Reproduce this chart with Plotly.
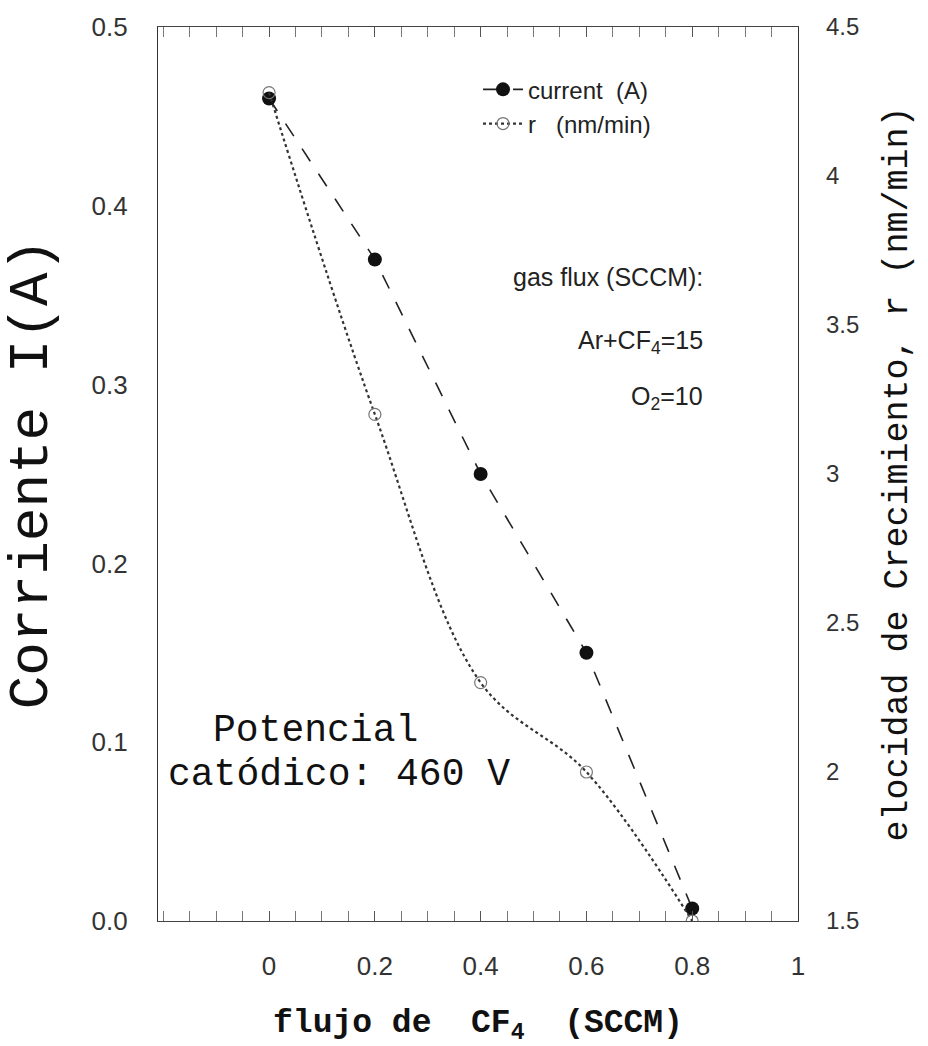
import plotly.graph_objects as go

flujo = [0.0, 0.2, 0.4, 0.6, 0.8]
corriente = [0.46, 0.37, 0.25, 0.15, 0.007]
tasa_r = [4.28, 3.2, 2.3, 2.0, 1.5]

x_ticks = [0, 0.2, 0.4, 0.6, 0.8, 1]
x_ticktext = ["0", "0.2", "0.4", "0.6", "0.8", "1"]
y_ticks = [0.0, 0.1, 0.2, 0.3, 0.4, 0.5]
y_ticktext = ["0.0", "0.1", "0.2", "0.3", "0.4", "0.5"]
y2_ticks = [1.5, 2, 2.5, 3, 3.5, 4, 4.5]
y2_ticktext = ["1.5", "2", "2.5", "3", "3.5", "4", "4.5"]

mono = "Liberation Mono, Courier New, monospace"
sans = "Liberation Sans, Arial, sans-serif"

fig = go.Figure()
fig.add_trace(go.Scatter(
    x=flujo, y=corriente, name="current  (A)", mode="lines+markers",
    line=dict(color="#222", width=1.6, dash="longdash"),
    marker=dict(symbol="circle", size=14, color="#111"),
))
fig.add_trace(go.Scatter(
    x=flujo, y=tasa_r, name="r   (nm/min)", yaxis="y2", mode="lines+markers",
    line=dict(color="#333", width=2.2, dash="dot", shape="spline"),
    marker=dict(symbol="circle-open", size=12, color="#777", line=dict(width=1.2)),
))

fig.update_layout(
    width=928, height=1046,
    margin=dict(l=158, r=130, t=24, b=121),
    paper_bgcolor="white", plot_bgcolor="white",
    showlegend=True,
    legend=dict(x=0.5, y=0.955, xanchor="left", yanchor="top",
                font=dict(family=sans, size=24, color="#222"),
                bgcolor="rgba(0,0,0,0)", itemwidth=40, tracegroupgap=4),
    xaxis=dict(range=[-0.21, 1.0], tickvals=x_ticks, ticktext=x_ticktext,
               showgrid=False, zeroline=False, showline=True, linecolor="#444",
               linewidth=1, mirror="allticks", ticks="inside", ticklen=10,
               tickcolor="#555", ticklabelstandoff=22,
               minor=dict(ticks="inside", ticklen=5, dtick=0.05, tickcolor="#777"),
               tickfont=dict(family=sans, size=26, color="#333"),
               title=dict(text="<b>flujo de  CF<sub>4</sub>  (SCCM)</b>",
                          font=dict(family=mono, size=33, color="#111"), standoff=30)),
    yaxis=dict(range=[0.0, 0.5], tickvals=y_ticks, ticktext=y_ticktext,
               showgrid=False, zeroline=False, showline=True, linecolor="#333",
               linewidth=1.2, ticks="", ticklabelstandoff=24,
               tickfont=dict(family=sans, size=26, color="#333"),
               title=dict(text="Corriente I(A)",
                          font=dict(family=mono, size=56, color="#111"), standoff=28)),
    yaxis2=dict(range=[1.5, 4.5], tickvals=y2_ticks, ticktext=y2_ticktext,
                overlaying="y", side="right", showgrid=False, zeroline=False,
                showline=True, linecolor="#333", linewidth=1.4, ticks="",
                ticklabelstandoff=22,
                tickfont=dict(family=sans, size=24, color="#333"),
                title=dict(text="elocidad de Crecimiento, r (nm/min)",
                           font=dict(family=mono, size=35, color="#111"), standoff=24)),
)

fig.add_annotation(xref="paper", yref="paper", x=0.855, y=0.72, xanchor="right",
                   yanchor="middle", showarrow=False, text="gas flux (SCCM):",
                   font=dict(family=sans, size=25, color="#222"))
fig.add_annotation(xref="paper", yref="paper", x=0.855, y=0.648, xanchor="right",
                   yanchor="middle", showarrow=False, text="Ar+CF<sub>4</sub>=15",
                   font=dict(family=sans, size=25, color="#222"))
fig.add_annotation(xref="paper", yref="paper", x=0.855, y=0.585, xanchor="right",
                   yanchor="middle", showarrow=False, text="O<sub>2</sub>=10",
                   font=dict(family=sans, size=25, color="#222"))
fig.add_annotation(xref="paper", yref="paper", x=0.246, y=0.213, xanchor="center",
                   yanchor="middle", showarrow=False, text="Potencial",
                   font=dict(family=mono, size=38, color="#111"))
fig.add_annotation(xref="paper", yref="paper", x=0.012, y=0.164, xanchor="left",
                   yanchor="middle", showarrow=False, text="catódico: 460 V",
                   font=dict(family=mono, size=38, color="#111"))

fig.write_html("out.html")
